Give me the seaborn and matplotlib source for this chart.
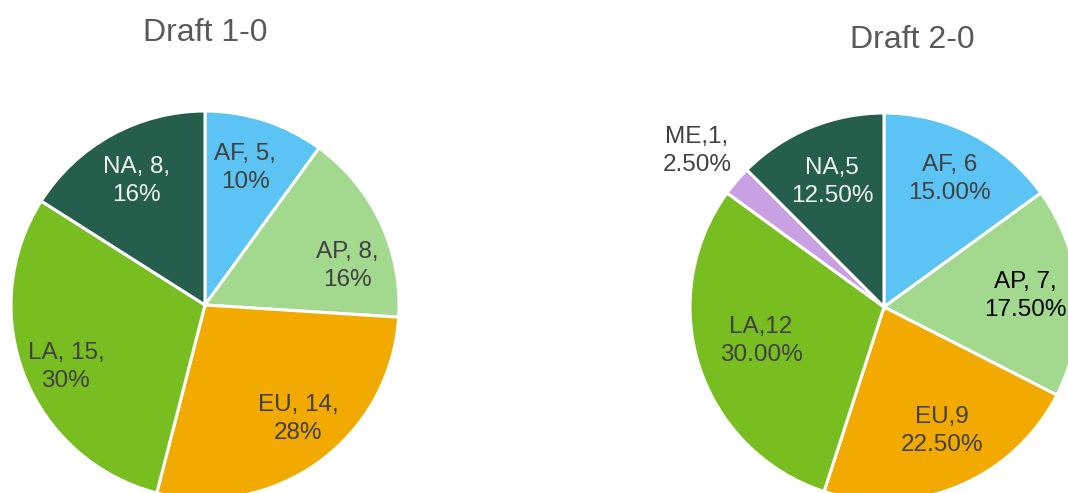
import matplotlib
matplotlib.use("Agg")
import matplotlib.pyplot as plt
import seaborn as sns
import numpy as np

sns.set_theme(style="white")
plt.rcParams['font.family'] = ['Liberation Sans', 'DejaVu Sans']

# ---- data ----
title1 = "Draft 1-0"
regions1 = ["AF", "AP", "EU", "LA", "NA"]
values1 = [5, 8, 14, 15, 8]
labels1 = ["AF, 5,\n10%", "AP, 8,\n16%", "EU, 14,\n28%", "LA, 15,\n30%", "NA, 8,\n16%"]

title2 = "Draft 2-0"
regions2 = ["AF", "AP", "EU", "LA", "ME", "NA"]
values2 = [6, 7, 9, 12, 1, 5]
labels2 = ["AF, 6\n15.00%", "AP, 7,\n17.50%", "EU,9\n22.50%", "LA,12\n30.00%",
           "ME,1,\n2.50%", "NA,5\n12.50%"]

# ---- style ----
palette = {"AF": "#5BC4F4", "AP": "#A2D98F", "EU": "#F2A900", "LA": "#78BE21",
           "ME": "#C9A0E3", "NA": "#265E4D"}
text_col1 = ["#404040", "#404040", "#404040", "#404040", "#F0F5EC"]
text_col2 = ["#404040", "#000000", "#404040", "#404040", "#404040", "#F0F5EC"]
# label placement: radial distance (fraction of radius) and clockwise angle shift (deg)
dist1 = [0.735, 0.76, 0.76, 0.785, 0.73]
shift1 = [-1.7, 9.8, -3.2, -2.4, 0.0]
dist2 = [0.74, 0.73, 0.705, 0.658, 1.255, 0.70]
shift2 = [0.0, 0.0, -2.6, 2.5, -0.7, 0.0]

W, H = 1068, 493
fig = plt.figure(figsize=(W / 100, H / 100), dpi=100)
ax = fig.add_axes([0, 0, 1, 1])

def draw(regions, values, labels, tcols, dists, shifts, center, radius, title, tpos):
    wedges, _ = ax.pie(values, colors=[palette[r] for r in regions],
                       startangle=90, counterclock=False,
                       center=center, radius=radius,
                       wedgeprops=dict(edgecolor="white", linewidth=2.2))
    for w, txt, c, d, s in zip(wedges, labels, tcols, dists, shifts):
        th = np.deg2rad((w.theta1 + w.theta2) / 2 - s)
        x = center[0] + d * radius * np.cos(th)
        y = center[1] + d * radius * np.sin(th)
        ax.text(x, y, txt, ha="center", va="center", fontsize=17.5,
                color=c, linespacing=1.35)
    ax.text(tpos[0], tpos[1], title, ha="center", va="center",
            fontsize=23, color="#595959")

draw(regions1, values1, labels1, text_col1, dist1, shift1, (205, H - 305), 194,
     title1, (205, H - 33))
draw(regions2, values2, labels2, text_col2, dist2, shift2, (884, H - 307), 194,
     title2, (912, H - 40))

ax.set_xlim(0, W)
ax.set_ylim(0, H)
ax.set_aspect("equal")
ax.axis("off")

fig.savefig("out.png", dpi=100, facecolor="white")
